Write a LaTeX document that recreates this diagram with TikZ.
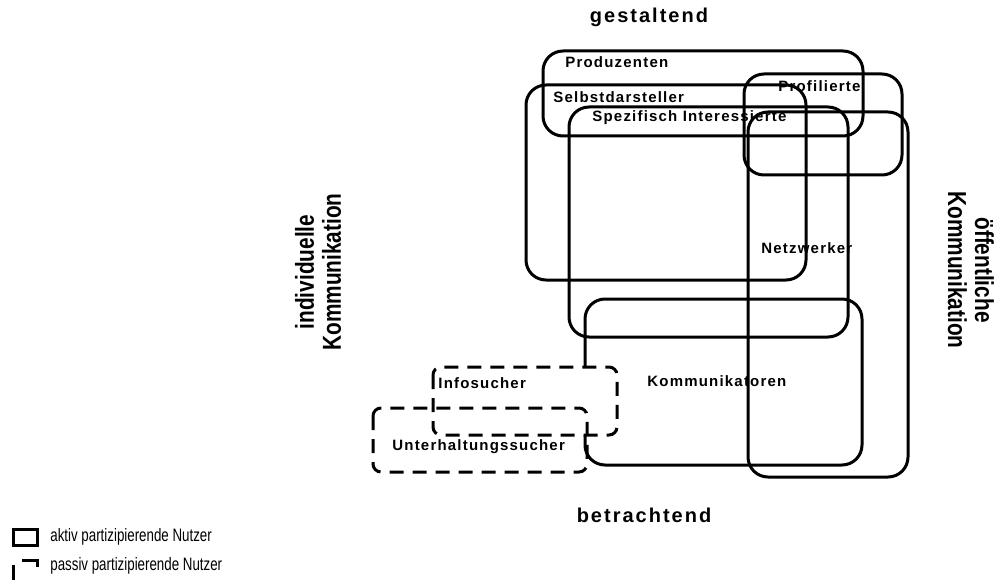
\documentclass[tikz,border=0pt]{standalone}
\usepackage{fontspec}
\setmainfont{Liberation Sans}
\newfontfamily\condfont[FakeStretch=0.8]{Liberation Sans}
\newfontfamily\narrowfont[FakeStretch=0.74]{Liberation Sans}
\usetikzlibrary{positioning}

\begin{document}
\begin{tikzpicture}[x=0.5pt, y=-0.5pt,
    grp/.style = {draw=black, line width=1.5pt, rounded corners=10pt},
    passiv/.style = {draw=black, line width=1.5pt, rounded corners=4pt,
            dash pattern=on 7pt off 4.5pt},
    lbl/.style = {anchor=west, inner sep=0pt,
            font=\addfontfeature{LetterSpace=8}\fontsize{7.5}{9}\selectfont\bfseries},
    pol/.style = {inner sep=0pt,
            font=\addfontfeature{LetterSpace=10}\fontsize{10}{12}\selectfont\bfseries},
    side/.style = {inner sep=0pt, align=center,
            font=\condfont\fontsize{13}{13.5}\selectfont\bfseries},
    legend/.style = {anchor=west, inner sep=0pt, font=\narrowfont\fontsize{9}{10}\selectfont}]
    \clip (0,0) rectangle (1002,583);

    % aktive Gruppen
    \draw[grp] (543,51) rectangle (863,136);
    \draw[grp] (526,85) rectangle (806,280);
    \draw[grp] (569,107) rectangle (848,337);
    \draw[grp] (744,74) rectangle (902,175);
    \draw[grp] (748,112) rectangle (908,477);
    \draw[grp] (585,299) rectangle (862,465);

    % passive Gruppen
    \fill[white, rounded corners=4pt] (433,367) rectangle (617,435);
    \draw[passiv] (433,367) rectangle (617,435);
    \draw[passiv] (373,408) rectangle (587,472);

    \node[lbl] (prod) at (565,62) {Produzenten};
    \node[lbl] (selbst) at (553,97) {Selbstdarsteller};
    \node[lbl] (spez) at (592,118) {Spezifisch Interessierte};
    \node[lbl] (profil) at (778,86) {Profilierte};
    \node[lbl] (netz) at (761,248) {Netzwerker};
    \node[lbl] (komm) at (647,381) {Kommunikatoren};
    \node[lbl] (info) at (438,383) {Infosucher};
    \node[lbl] (unter) at (392,447) {Unterhaltungssucher};

    % Achsen
    \node[pol] (oben) at (649,17) {gestaltend};
    \node[pol] (unten) at (644,515) {betrachtend};
    \node[side, rotate=90] (indiv) at (318,272) {individuelle\\Kommunikation};
    \node[side, rotate=-90] (oeff) at (971,270) {öffentliche\\Kommunikation};

    % Legende
    \draw[line width=1.5pt] (13,529) rectangle (37,545);
    \draw[line width=1.5pt, dash pattern=on 7.5pt off 9.5pt on 6pt off 13pt on 11pt off 7pt,
          dash phase=51.5pt] (13,560) rectangle (37,590);
    \node[legend] (aktiv) at (50,537) {aktiv partizipierende Nutzer};
    \node[legend] (passivtxt) at (50,566) {passiv partizipierende Nutzer};
\end{tikzpicture}
\end{document}
